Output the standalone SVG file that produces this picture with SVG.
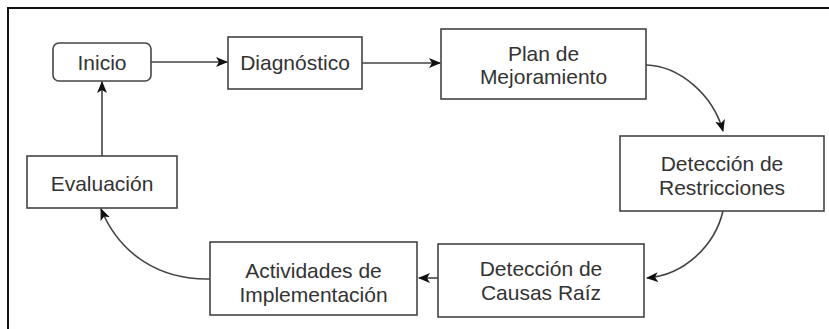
<svg xmlns="http://www.w3.org/2000/svg" width="829" height="329" viewBox="0 0 829 329">
<style>
.box{fill:#fff;stroke:#444;stroke-width:1.6}
.lbl{font-family:"Liberation Sans",Arial,sans-serif;font-size:21px;fill:#333;text-anchor:middle}
.edge{fill:none;stroke:#444;stroke-width:1.6}
.frame{fill:none;stroke:#111;stroke-width:2}
</style>
<defs>
<marker id="ah" viewBox="0 0 12 10" refX="11" refY="5" markerWidth="12" markerHeight="10" markerUnits="userSpaceOnUse" orient="auto">
<path d="M0,0 L12,5 L0,10 L3,5 Z" fill="#111"/>
</marker>
</defs>
<rect width="829" height="329" fill="#fff"/>
<path class="frame" d="M8,329 V8 H829"/>
<g id="inicio"><rect class="box" x="53" y="43" width="98" height="38" rx="6"/><text class="lbl" x="102" y="70">Inicio</text></g>
<g id="diagnostico"><rect class="box" x="228" y="37" width="134" height="52"/><text class="lbl" x="295" y="70">Diagnóstico</text></g>
<g id="plan"><rect class="box" x="441" y="29" width="205" height="70"/><text class="lbl" x="543.5" y="60.5">Plan de</text><text class="lbl" x="543.5" y="84">Mejoramiento</text></g>
<g id="restricciones"><rect class="box" x="620" y="136" width="204" height="75"/><text class="lbl" x="722" y="171">Detección de</text><text class="lbl" x="722" y="195">Restricciones</text></g>
<g id="causas"><rect class="box" x="438" y="244" width="206" height="73"/><text class="lbl" x="541" y="276">Detección de</text><text class="lbl" x="541" y="300">Causas Raíz</text></g>
<g id="actividades"><rect class="box" x="210" y="242" width="207" height="73"/><text class="lbl" x="313.5" y="278">Actividades de</text><text class="lbl" x="313.5" y="302">Implementación</text></g>
<g id="evaluacion"><rect class="box" x="27" y="156" width="150" height="52"/><text class="lbl" x="102" y="191">Evaluación</text></g>
<g id="connectors">
<path class="edge" d="M151,62 H227" marker-end="url(#ah)"/>
<path class="edge" d="M362,63 H440" marker-end="url(#ah)"/>
<path class="edge" d="M646,65 C680,66 713,95 723,131" marker-end="url(#ah)"/>
<path class="edge" d="M723,211 C715,245 685,275 647,278" marker-end="url(#ah)"/>
<path class="edge" d="M438,278 H419" marker-end="url(#ah)"/>
<path class="edge" d="M210,279 C160,280 120,255 101,209" marker-end="url(#ah)"/>
<path class="edge" d="M102,156 V82" marker-end="url(#ah)"/>
</g>
</svg>
